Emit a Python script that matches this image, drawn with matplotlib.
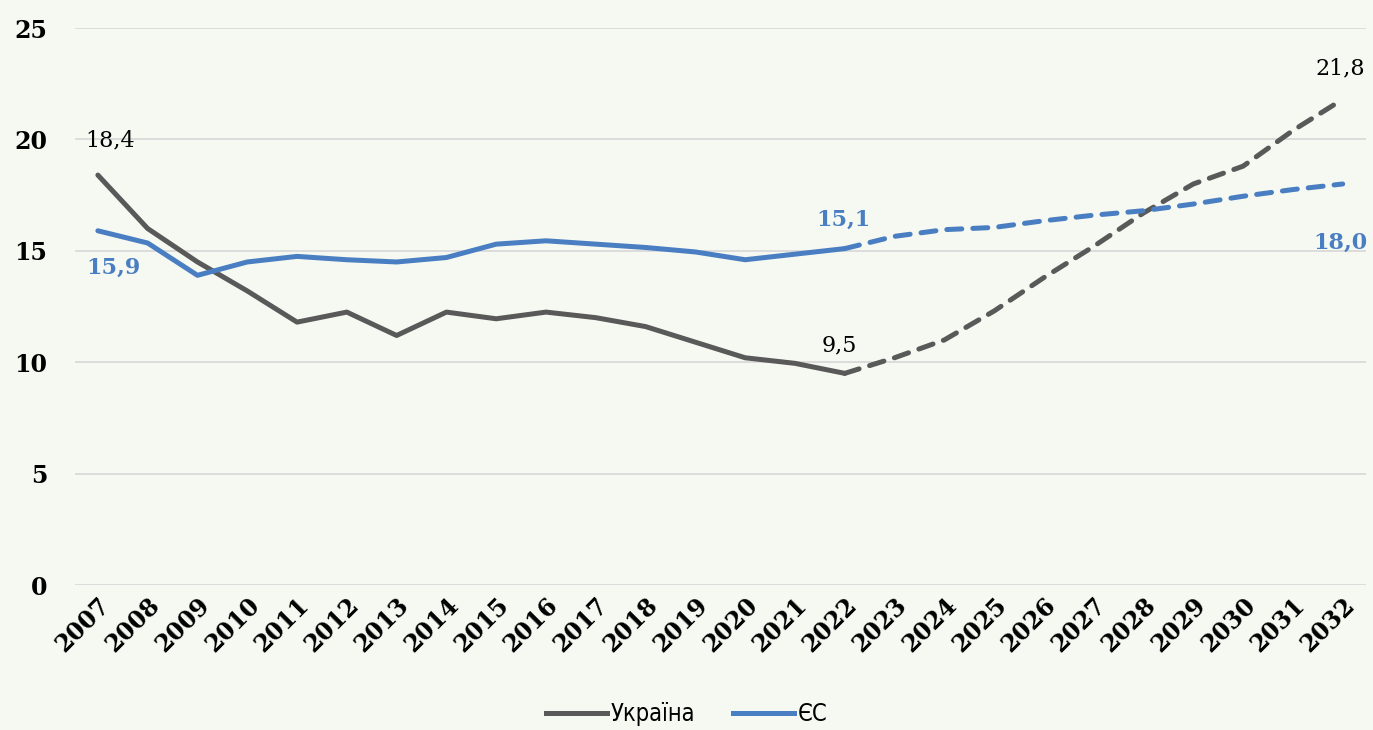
import matplotlib
matplotlib.use("Agg")
import matplotlib.pyplot as plt
from matplotlib.lines import Line2D

years = list(range(2007, 2033))
ukraine = [18.4, 16.0, 14.5, 13.2, 11.8, 12.25, 11.2, 12.25, 11.95, 12.25, 12.0, 11.6, 10.9,
           10.2, 9.95, 9.5, 10.2, 11.0, 12.3, 13.8, 15.2, 16.7, 18.0, 18.8, 20.4, 21.8]
eu = [15.9, 15.35, 13.9, 14.5, 14.75, 14.6, 14.5, 14.7, 15.3, 15.45, 15.3, 15.15, 14.95,
      14.6, 14.85, 15.1, 15.65, 15.95, 16.05, 16.35, 16.6, 16.8, 17.1, 17.45, 17.75, 18.0]
last_actual = 2022
y_ticks = [0, 5, 10, 15, 20, 25]

grey = "#595959"
blue = "#4a7ec2"
bg = "#f6f9f1"

fig = plt.figure(figsize=(13.73, 7.30), dpi=100, facecolor=bg)
ax = fig.add_axes([0.0546, 0.1986, 0.940, 0.763], facecolor=bg)

k = years.index(last_actual)
for vals, col in [(ukraine, grey), (eu, blue)]:
    ax.plot(years[:k + 1], vals[:k + 1], color=col, lw=3.6,
            solid_joinstyle="round", solid_capstyle="round", zorder=3)
    ax.plot(years[k:], vals[k:], color=col, lw=3.6, linestyle=(0, (3, 2.2)),
            dash_capstyle="round", zorder=3)

ax.set_xlim(2006.54, 2032.46)
ax.set_ylim(0, 25)
ax.set_yticks(y_ticks)
ax.set_xticks(years)
ax.set_xticklabels([str(y) for y in years], rotation=45, ha="right",
                   rotation_mode="anchor", fontsize=17, fontweight="bold",
                   family="DejaVu Serif")
ax.set_yticklabels([str(v) for v in y_ticks], fontsize=17, fontweight="bold",
                   family="DejaVu Serif")
ax.tick_params(axis="both", length=0)
ax.tick_params(axis="y", pad=20)
ax.tick_params(axis="x", pad=6)
ax.grid(axis="y", color="#d9d9d9", lw=1.3)
ax.set_axisbelow(True)
for s in ax.spines.values():
    s.set_visible(False)


def fmt(v):
    return f"{v:.1f}".replace(".", ",")


lab = dict(fontsize=16, family="DejaVu Serif", ha="center", va="center")
ax.annotate(fmt(ukraine[0]), (years[0], ukraine[0]), xytext=(9, 25),
            textcoords="offset points", color="black", **lab)
ax.annotate(fmt(eu[0]), (years[0], eu[0]), xytext=(11, -27),
            textcoords="offset points", color=blue, fontweight="bold", **lab)
ax.annotate(fmt(eu[k]), (years[k], eu[k]), xytext=(-1, 21),
            textcoords="offset points", color=blue, fontweight="bold", **lab)
ax.annotate(fmt(ukraine[k]), (years[k], ukraine[k]), xytext=(-4, 20),
            textcoords="offset points", color="black", **lab)
ax.annotate(fmt(ukraine[-1]), (years[-1], ukraine[-1]), xytext=(-2, 22),
            textcoords="offset points", color="black", **lab)
ax.annotate(fmt(eu[-1]), (years[-1], eu[-1]), xytext=(-2, -42),
            textcoords="offset points", color=blue, fontweight="bold", **lab)

handles = [Line2D([], [], color=grey, lw=3.6), Line2D([], [], color=blue, lw=3.6)]
fig.legend(handles, ["Україна", "ЄС"], loc="center", bbox_to_anchor=(0.5, 0.022),
           ncol=2, frameon=False, handlelength=2.6, handletextpad=0.15,
           columnspacing=1.6,
           prop={"family": "DejaVu Sans", "stretch": "condensed", "size": 17})

fig.savefig("out.png", dpi=100, facecolor=bg)
